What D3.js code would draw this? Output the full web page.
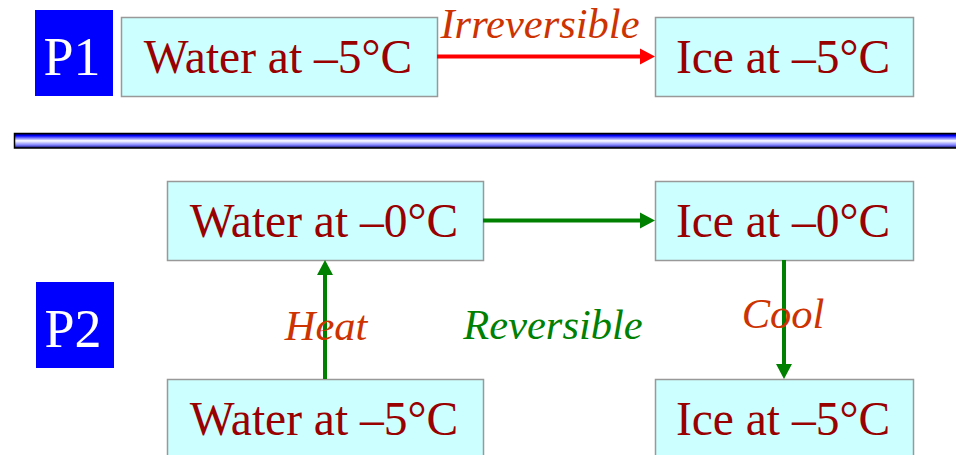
<!DOCTYPE html>
<html>
<head>
<meta charset="utf-8">
<script src="https://cdn.jsdelivr.net/npm/d3@7"></script>
<style>
  body { margin: 0; background: #fff; }
  svg { display: block; font-family: "Liberation Serif", "Times New Roman", serif; }
</style>
</head>
<body>
<div id="chart"></div>
<script>
// Diagram content
const boxLabels = ["Water at –5°C", "Ice at –5°C", "Water at –0°C", "Ice at –0°C", "Water at –5°C", "Ice at –5°C"];
const boxColumns = ["p1Left", "right", "p2Left", "right", "p2Left", "right"];
const boxRows = ["p1", "p1", "p2Top", "p2Top", "p2Bottom", "p2Bottom"];

const stageLabels = ["P1", "P2"];

const arrowFrom = [0, 2, 4, 3];
const arrowTo = [1, 3, 2, 5];
const arrowKinds = ["irreversible", "reversible", "reversible", "reversible"];

const processLabels = ["Irreversible", "Heat", "Reversible", "Cool"];

const width = 956, height = 455;

// Layout scales
const colX = d3.scaleOrdinal().domain(["p1Left", "p2Left", "right"]).range([121, 167, 655]);
const colW = d3.scaleOrdinal().domain(["p1Left", "p2Left", "right"]).range([316, 316, 258]);
const rowY = d3.scaleOrdinal().domain(["p1", "p2Top", "p2Bottom"]).range([17, 181, 379]);
const boxH = 79;

const stageX = d3.scaleOrdinal().domain(stageLabels).range([35, 36]);
const stageY = d3.scaleOrdinal().domain(stageLabels).range([10, 282]);

const arrowColor = d3.scaleOrdinal().domain(["irreversible", "reversible"]).range(["#ff0000", "#008000"]);

const labelX = d3.scaleOrdinal().domain(processLabels).range([540, 326, 553, 783]);
const labelY = d3.scaleOrdinal().domain(processLabels).range([38, 340, 339, 328]);
const labelColor = d3.scaleOrdinal().domain(processLabels).range(["#cc3300", "#cc3300", "#008000", "#cc3300"]);

const svg = d3.select("#chart")
    .append("svg")
    .attr("width", width)
    .attr("height", height);

// gradient for the divider bar
const grad = svg.append("defs").append("linearGradient")
    .attr("id", "barGrad")
    .attr("x1", 0).attr("y1", 0).attr("x2", 0).attr("y2", 1);
[[0, "#000066"], [0.15, "#0000ff"], [0.5, "#ffffff"], [0.8, "#8080ff"], [1, "#000066"]].forEach(function (s) {
    grad.append("stop").attr("offset", s[0]).attr("stop-color", s[1]);
});

svg.append("rect")
    .attr("x", 14.5)
    .attr("y", 133.5)
    .attr("width", width)
    .attr("height", 14.5)
    .attr("fill", "url(#barGrad)")
    .attr("stroke", "#000")
    .attr("stroke-width", 1.5);

// stage squares
const stages = svg.selectAll(".stage")
    .data(stageLabels)
    .enter()
    .append("g")
    .attr("class", "stage");

stages.append("rect")
    .attr("x", d => stageX(d))
    .attr("y", d => stageY(d))
    .attr("width", 78)
    .attr("height", 86)
    .attr("fill", "#0000ff");

stages.append("text")
    .attr("x", d => stageX(d) + 37)
    .attr("y", d => stageY(d) + 65)
    .attr("text-anchor", "middle")
    .attr("fill", "#ffffff")
    .attr("font-size", 54)
    .text(d => d);

// boxes
const boxes = boxLabels.map(function (label, i) {
    const x = colX(boxColumns[i]);
    const y = rowY(boxRows[i]);
    const w = colW(boxColumns[i]);
    return { label: label, x: x, y: y, w: w, h: boxH, row: boxRows[i] };
});

const boxG = svg.selectAll(".box")
    .data(boxes)
    .enter()
    .append("g")
    .attr("class", "box");

boxG.append("rect")
    .attr("x", d => d.x + 0.5)
    .attr("y", d => d.y + 0.5)
    .attr("width", d => d.w)
    .attr("height", d => d.h)
    .attr("fill", "#ccffff")
    .attr("stroke", "#999999")
    .attr("stroke-width", 1.5);

boxG.append("text")
    .attr("x", d => d.x + d.w / 2 - 1)
    .attr("y", d => d.y + 56)
    .attr("text-anchor", "middle")
    .attr("fill", "#990000")
    .attr("font-size", 47.5)
    .text(d => d.label);

// arrows
const arrows = arrowFrom.map(function (f, i) {
    const a = boxes[f], b = boxes[arrowTo[i]];
    let x1, y1, x2, y2;
    if (a.row === b.row) {
        x1 = a.x + a.w; y1 = a.y + a.h / 2;
        x2 = b.x; y2 = b.y + b.h / 2;
    } else if (b.y < a.y) {
        x1 = a.x + a.w / 2; y1 = a.y;
        x2 = b.x + b.w / 2; y2 = b.y + b.h;
    } else {
        x1 = a.x + a.w / 2; y1 = a.y + a.h;
        x2 = b.x + b.w / 2; y2 = b.y;
    }
    return { x1: x1, y1: y1, x2: x2, y2: y2, color: arrowColor(arrowKinds[i]) };
});

const headLen = 15, headHalf = 8;

const arrowG = svg.selectAll(".arrow")
    .data(arrows)
    .enter()
    .append("g")
    .attr("class", "arrow");

arrowG.append("line")
    .attr("x1", d => d.x1)
    .attr("y1", d => d.y1)
    .attr("x2", function (d) {
        const len = Math.hypot(d.x2 - d.x1, d.y2 - d.y1);
        return d.x2 - (d.x2 - d.x1) / len * headLen;
    })
    .attr("y2", function (d) {
        const len = Math.hypot(d.x2 - d.x1, d.y2 - d.y1);
        return d.y2 - (d.y2 - d.y1) / len * headLen;
    })
    .attr("stroke", d => d.color)
    .attr("stroke-width", 4);

arrowG.append("path")
    .attr("d", function (d) {
        const len = Math.hypot(d.x2 - d.x1, d.y2 - d.y1);
        const ux = (d.x2 - d.x1) / len, uy = (d.y2 - d.y1) / len;
        const bx = d.x2 - ux * headLen, by = d.y2 - uy * headLen;
        return "M" + d.x2 + "," + d.y2 +
            "L" + (bx - uy * headHalf) + "," + (by + ux * headHalf) +
            "L" + (bx + uy * headHalf) + "," + (by - ux * headHalf) + "Z";
    })
    .attr("fill", d => d.color);

// process labels
svg.selectAll(".plabel")
    .data(processLabels)
    .enter()
    .append("text")
    .attr("class", "plabel")
    .attr("x", d => labelX(d))
    .attr("y", d => labelY(d))
    .attr("text-anchor", "middle")
    .attr("font-style", "italic")
    .attr("font-size", 42.5)
    .attr("fill", d => labelColor(d))
    .text(d => d);
</script>
</body>
</html>
